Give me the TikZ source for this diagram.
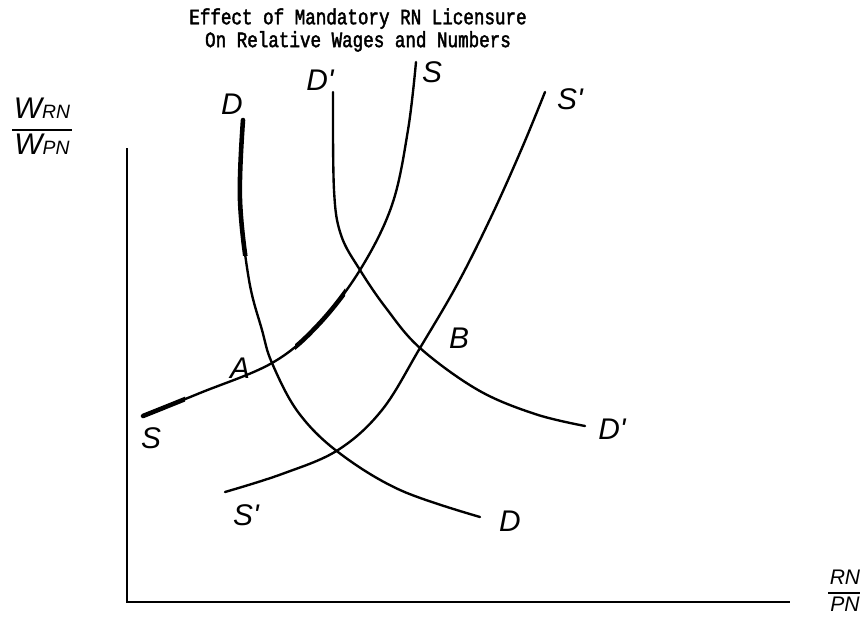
\documentclass[tikz,border=0pt]{standalone}
\usepackage{fontspec}
\newfontfamily\typefont{Liberation Mono}[FakeBold=2, FakeStretch=0.8]
\newfontfamily\handfont{Liberation Sans}
\usetikzlibrary{positioning}

% punti delle curve
\newcommand{\curveD}{plot coordinates {(243,120) (240,200) (249,280) (262,330) (272,363) (298,412) (338,452) (400,490) (480,517)}}
\newcommand{\curveDp}{plot coordinates {(333,92) (334,190) (341,235) (360,270) (386,308) (420,348) (478,390) (535,414) (585,426)}}
\newcommand{\curveS}{plot coordinates {(143,416) (200,393) (272,363) (318,325) (360,270) (392,205) (408,130) (416,62)}}
\newcommand{\curveSp}{plot coordinates {(225,492) (282,474) (338,450) (382,410) (420,348) (458,283) (492,215) (522,148) (545,92)}}
\newcommand{\pr}{\textquotesingle}

\begin{document}
\begin{tikzpicture}[
        x=0.02cm, y=-0.02cm,
        curve/.style={line width=1.35pt, line cap=round, smooth, tension=0.6},
        heavy/.style={curve, line width=2.6pt},
        axis/.style={line width=1.2pt},
        hand/.style={font=\handfont\itshape\fontsize{17}{19}\selectfont, inner sep=1pt},
        small/.style={font=\handfont\itshape\fontsize{12}{14}\selectfont},
        title/.style={font=\typefont\fontsize{12.5}{13}\selectfont, align=center}
    ]
    \useasboundingbox (0,0) rectangle (860,629);

    % Titolo
    \node [title] (title) at (358,30) {Effect of Mandatory RN Licensure\\On Relative Wages and Numbers};

    % Assi
    \coordinate (ytop) at (127,148);
    \coordinate (origin) at (127,602);
    \coordinate (xend) at (790,602);
    \draw [axis] (ytop) -- (origin) -- (xend);
    \node [hand] (ylab) at (42,130) {\setlength\tabcolsep{1pt}\setlength\arrayrulewidth{1.3pt}%
        \begin{tabular}{c}W{\fontsize{11}{12}\selectfont RN}\\\hline W{\fontsize{11}{12}\selectfont PN}\end{tabular}};
    \node [small] (xlab) at (845,593) {\setlength\tabcolsep{1pt}\setlength\arrayrulewidth{1.3pt}%
        \begin{tabular}{c}RN\\\hline PN\end{tabular}};

    % Curve
    \draw [curve] \curveD;
    \draw [curve] \curveDp;
    \draw [curve] \curveS;
    \draw [curve] \curveSp;

    % tratti piu' marcati
    \begin{scope}
        \clip (225,110) rectangle (270,255);
        \draw [heavy] \curveD;
    \end{scope}
    \begin{scope}
        \clip (130,395) rectangle (185,425);
        \draw [heavy] \curveS;
    \end{scope}
    \begin{scope}
        \clip (295,285) rectangle (345,350);
        \draw [heavy] \curveS;
    \end{scope}

    % Etichette
    \node [hand] (Dtop) at (232,104) {D};
    \node [hand] (Dend) at (510,521) {D};
    \node [hand] (Dptop) at (320,80) {D\pr};
    \node [hand] (Dpend) at (612,429) {D\pr};
    \node [hand] (Stop) at (432,72) {S};
    \node [hand] (Send) at (151,438) {S};
    \node [hand] (Sptop) at (570,99) {S\pr};
    \node [hand] (Spend) at (246,515) {S\pr};
    \node [hand] (A) at (240,368) {A};
    \node [hand] (B) at (459,338) {B};
\end{tikzpicture}
\end{document}
